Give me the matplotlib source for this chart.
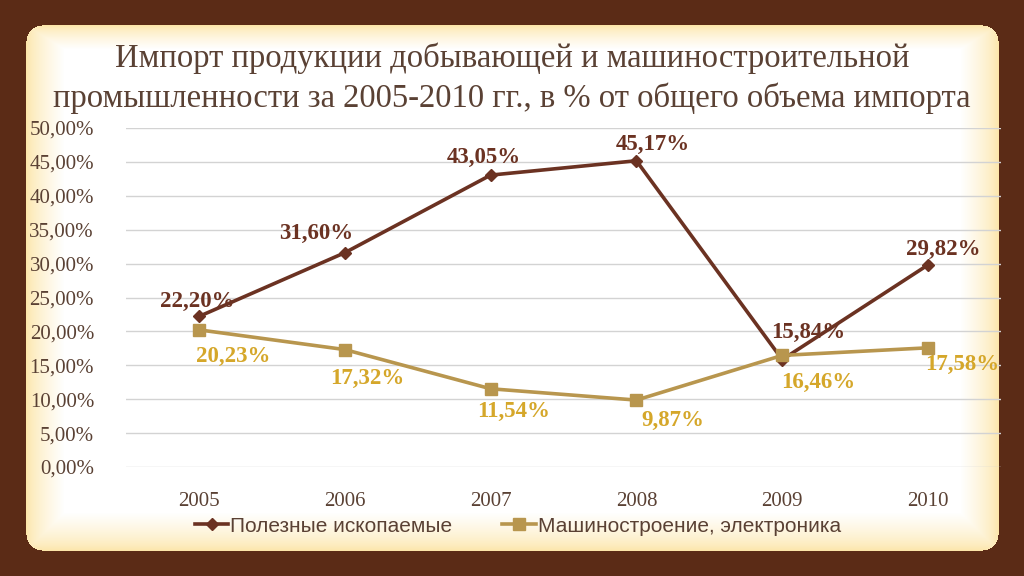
import numpy as np
import matplotlib
matplotlib.use("Agg")
import matplotlib.pyplot as plt

years = ["2005", "2006", "2007", "2008", "2009", "2010"]
minerals = [22.20, 31.60, 43.05, 45.17, 15.84, 29.82]
machinery = [20.23, 17.32, 11.54, 9.87, 16.46, 17.58]
minerals_labels = ["22,20%", "31,60%", "43,05%", "45,17%", "15,84%", "29,82%"]
machinery_labels = ["20,23%", "17,32%", "11,54%", "9,87%", "16,46%", "17,58%"]
yticks = [0, 5, 10, 15, 20, 25, 30, 35, 40, 45, 50]
ytick_labels = ["0,00%", "5,00%", "10,00%", "15,00%", "20,00%", "25,00%",
                "30,00%", "35,00%", "40,00%", "45,00%", "50,00%"]

W, H = 1024, 576
brown_bg = np.array([0.36, 0.17, 0.09])
edge_col = np.array([0.99, 0.90, 0.66])
white = np.array([1.0, 1.0, 1.0])

# background: brown slide with cream rounded panel, glowing edges
x0, x1, y0, y1, r = 26, 998, 25, 550, 16
yy, xx = np.mgrid[0:H, 0:W]
dx = np.maximum(np.maximum(x0 + r - xx, xx - (x1 - r)), 0)
dy = np.maximum(np.maximum(y0 + r - yy, yy - (y1 - r)), 0)
inside = (dx ** 2 + dy ** 2 <= r ** 2) & (xx >= x0) & (xx <= x1) & (yy >= y0) & (yy <= y1)
d = np.minimum.reduce([xx - x0, x1 - xx, (yy - y0) * 1.6, y1 - yy]).astype(float)
t = np.clip(d / 38.0, 0, 1) ** 0.7
panel = edge_col[None, None, :] * (1 - t[..., None]) + white[None, None, :] * t[..., None]
img = np.where(inside[..., None], panel, brown_bg[None, None, :])

fig = plt.figure(figsize=(W / 100, H / 100), dpi=100)
bg = fig.add_axes([0, 0, 1, 1])
bg.imshow(img, aspect="auto", extent=(0, W, H, 0))
bg.set_axis_off()

serif = ["Liberation Serif", "DejaVu Serif"]
text_col = "#5a4134"
c_min = "#6b3222"
c_mach = "#b8964e"
c_mach_lab = "#d5a72a"

fig.text(0.5, 1 - 58 / H, "Импорт продукции добывающей и машиностроительной",
         ha="center", va="center", fontsize=23.5, color=text_col, family=serif)
fig.text(0.5, 1 - 98 / H, "промышленности за 2005-2010 гг., в % от общего объема импорта",
         ha="center", va="center", fontsize=23.5, color=text_col, family=serif)

ax = fig.add_axes([126 / W, (H - 467) / H, 875 / W, 339 / H])
ax.patch.set_alpha(0)
x = np.arange(len(years))
ax.plot(x, minerals, color=c_min, lw=2.6, marker="D", ms=6, label="Полезные ископаемые", zorder=3)
ax.plot(x, machinery, color=c_mach, lw=2.6, marker="s", ms=9, label="Машиностроение, электроника", zorder=3)

ax.set_xlim(-0.5, len(years) - 0.5)
ax.set_ylim(0, 50)
ax.set_yticks(yticks)
ax.set_yticklabels(ytick_labels)
ax.set_xticks(x)
ax.set_xticklabels(years)
ax.grid(axis="y", color="#d3d3d3", lw=1)
ax.set_axisbelow(True)
for s in ax.spines.values():
    s.set_visible(False)
ax.tick_params(length=0, colors=text_col, labelsize=15)
ax.tick_params(axis="y", pad=23)
ax.tick_params(axis="x", pad=18)
for lab in ax.get_xticklabels() + ax.get_yticklabels():
    lab.set_family(serif)

min_off = [(-2, 15), (-29, 19), (-7, 18), (16, 16), (26, 27), (15, 15)]
mach_off = [(34, -27), (22, -29), (23, -23), (36, -20), (36, -27), (34, -17)]
for i in range(len(years)):
    ax.annotate(minerals_labels[i], (x[i], minerals[i]), xytext=min_off[i],
                textcoords="offset pixels", ha="center", va="center",
                fontsize=16.5, fontweight="bold", color=c_min, family=serif, zorder=4)
    ax.annotate(machinery_labels[i], (x[i], machinery[i]), xytext=mach_off[i],
                textcoords="offset pixels", ha="center", va="center",
                fontsize=16.5, fontweight="bold", color=c_mach_lab, family=serif, zorder=4)

leg = fig.legend(loc="center", bbox_to_anchor=(518 / W, 1 - 526 / H), ncol=2, frameon=False,
                 prop={"family": ["Liberation Sans Narrow", "Liberation Sans"], "size": 15},
                 handlelength=1.6, handletextpad=0.1, columnspacing=2.4, labelcolor=text_col,
                 borderpad=0.1)

fig.savefig("out.png", dpi=100)
